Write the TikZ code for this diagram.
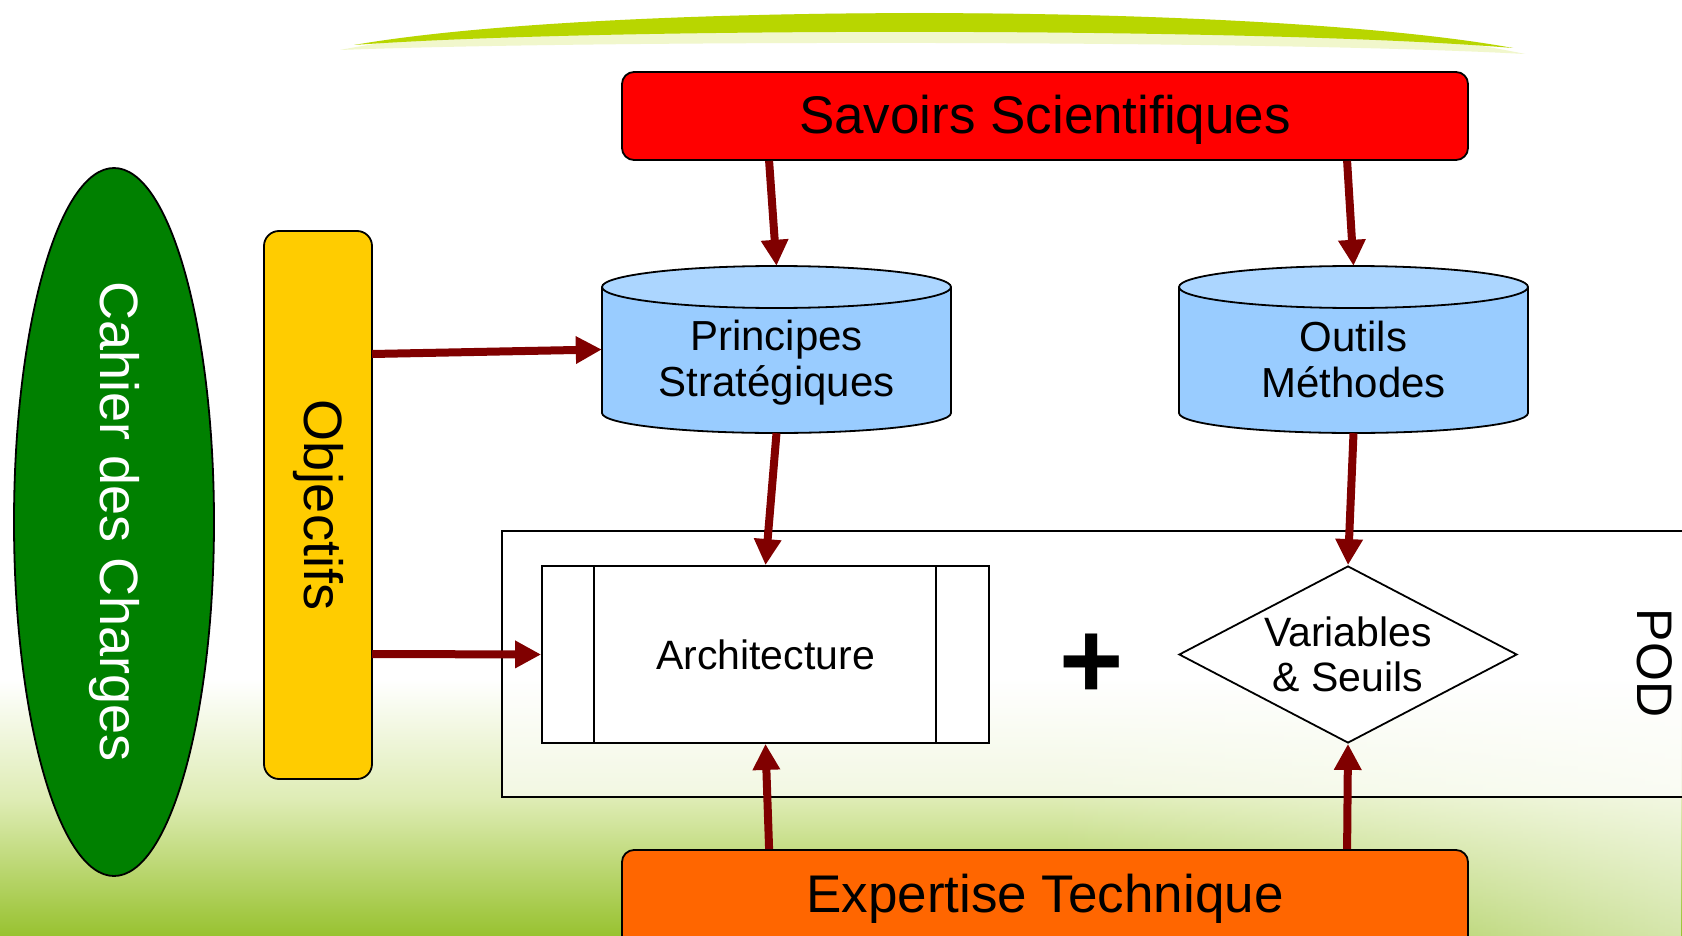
\documentclass[tikz,border=0pt]{standalone}
\usepackage{fontspec}
\setmainfont{Liberation Sans}
\usetikzlibrary{shapes.geometric,arrows.meta,calc,fadings}
\definecolor{arrred}{RGB}{128,0,0}
\definecolor{savred}{RGB}{255,0,0}
\definecolor{exporange}{RGB}{255,102,0}
\definecolor{cdcgreen}{RGB}{0,128,0}
\definecolor{objyellow}{RGB}{255,204,0}
\definecolor{cylbody}{RGB}{153,204,255}
\definecolor{cyltop}{RGB}{172,214,255}
\definecolor{swooshcol}{RGB}{184,214,0}
\definecolor{grassA}{RGB}{222,236,180}
\definecolor{grassB}{RGB}{152,194,48}
\newcommand{\fsz}[2]{\fontsize{#1}{#2}\selectfont}
\newcommand{\drawcyl}[3]{%
  \filldraw[fill=cylbody, line width=1.8pt] (#1-174.5,#2) -- (#1-174.5,#3)
     arc[start angle=180, end angle=0, x radius=174.5, y radius=20] -- (#1+174.5,#2);
  \filldraw[fill=cyltop, line width=1.8pt] (#1,#2) ellipse[x radius=174.5, y radius=21];}
\tikzfading[name=fadeR, left color=transparent!100, right color=transparent!0]
\begin{document}
\begin{tikzpicture}[x=1pt, y=-1pt,
  arr/.style={line width=8pt, draw=arrred, -{Triangle[length=26pt, width=26pt]}},
  bigbox/.style={draw, line width=1.8pt, rounded corners=12pt, minimum width=846pt, minimum height=88pt, inner sep=0pt},
  cyllabel/.style={align=center, font=\fsz{42}{46}},
  thinline/.style={line width=1.8pt}]
\useasboundingbox (0,0) rectangle (1682,936);
% background
\fill[white] (0,0) rectangle (1682,936);
\shade[top color=white, bottom color=grassA] (0,680) rectangle (1682,800);
\shade[top color=grassA, bottom color=grassB] (0,800) rectangle (1682,936);
\fill[white, path fading=fadeR, fill opacity=0.6] (1050,680) rectangle (1682,936);
% top swoosh
\fill[swooshcol!20] (340,50) .. controls (600,0) and (1270,0) .. (1525,54) .. controls (1270,40) and (600,40) .. cycle;
\fill[swooshcol] (354,45) .. controls (600,2) and (1260,2) .. (1513,48) .. controls (1260,27) and (600,27) .. cycle;
% POD frame
\fill[white, fill opacity=0.6] (502,531) rectangle (1700,797);
\draw[thinline] (1700,531) -- (502,531) -- (502,797) -- (1700,797);
% cylinders
\drawcyl{776.5}{287}{413}
\drawcyl{1353.5}{287}{413}
\node[minimum width=349pt, minimum height=167pt, inner sep=0pt,
  label={[cyllabel, yshift=-13.5pt]center:Principes\\Stratégiques}] (prin) at (776.5,349.5) {};
\node[minimum width=349pt, minimum height=167pt, inner sep=0pt,
  label={[cyllabel, yshift=-9.5pt]center:Outils\\Méthodes}] (out) at (1353.5,349.5) {};
% boxes
\node[bigbox, fill=savred, text height=40pt, text depth=4pt, font=\fsz{53}{60}] (sav) at (1045,116) {Savoirs Scientifiques};
\node[bigbox, fill=exporange, minimum height=100pt, text height=40pt, text depth=16pt, font=\fsz{53}{60}] (exp) at (1045,900) {Expertise Technique};
\node[ellipse, draw, thinline, fill=cdcgreen, text=white, rotate=-90, minimum width=708pt, minimum height=200pt, inner sep=0pt, font=\fsz{54}{60}] (cdc) at (114,522) {Cahier des Charges};
\node[draw, thinline, fill=objyellow, rounded corners=15pt, rotate=-90, minimum width=548pt, minimum height=108pt, inner sep=0pt, font=\fsz{54}{60}] (obj) at (318,505) {Objectifs};
\node[draw, thinline, fill=white, minimum width=447pt, minimum height=177pt, inner sep=0pt, font=\fsz{41}{46}] (arch) at (765.5,654.5) {Architecture};
\draw[thinline] ([xshift=53pt]arch.north west) -- ([xshift=53pt]arch.south west);
\draw[thinline] ([xshift=-54pt]arch.north east) -- ([xshift=-54pt]arch.south east);
\node[diamond, draw, thinline, fill=white, minimum width=338pt, minimum height=177pt, inner sep=0pt,
  label={[align=center, font=\fsz{41}{45}]center:Variables\\\& Seuils}] (var) at (1348,654.5) {};
\node[font=\fsz{110}{120}\bfseries] (plus) at (1092,666) {+};
\node[rotate=-90, font=\fsz{50}{55}] (pod) at (1655,663) {POD};
% arrows
\draw[arr] ($(sav.south west)+(148,0)$) -- (prin.north);
\draw[arr] ($(sav.south west)+(726,0)$) -- (out.north);
\draw[arr] (prin.south) -- (arch.north);
\draw[arr] (out.south) -- (var.north);
\draw[arr] ($(exp.north west)+(148,0)$) -- (arch.south);
\draw[arr] ($(exp.north west)+(726,0)$) -- (var.south);
\draw[arr] ($(obj.center)+(54,-151)$) -- (prin.west);
\draw[arr] ($(obj.center)+(54,149)$) -- (arch.west);
\end{tikzpicture}
\end{document}
